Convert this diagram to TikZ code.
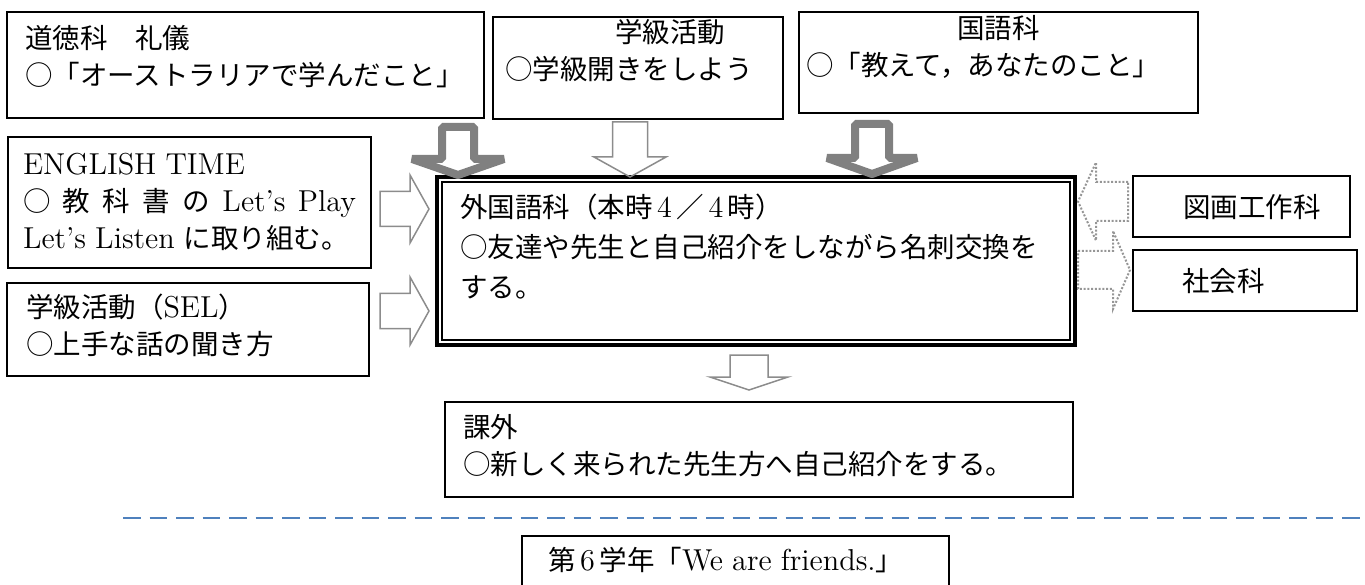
\documentclass[tikz,border=0pt]{standalone}
\usepackage{fontspec}
\setmainfont{Latin Modern Roman}[Scale=1.1]
\newfontfamily\jp{Noto Sans CJK JP}
\newcommand\en[1]{{\rmfamily #1}}
\definecolor{arrowgray}{RGB}{128,128,128}
\definecolor{linegray}{RGB}{140,140,140}
\definecolor{dotgray}{RGB}{150,150,150}
\definecolor{dashblue}{RGB}{79,129,189}
% block arrows: [style]{x}{top}{shaft half}{head half}{head y}{tip y}
\newcommand\vblock[7][]{\draw[#1] ({#2-#4},#3) -- ({#2+#4},#3) -- ({#2+#4},#6) -- ({#2+#5},#6) -- (#2,#7) -- ({#2-#5},#6) -- ({#2-#4},#6) -- cycle;}
% [style]{y}{start x}{shaft half}{head half}{head x}{tip x}
\newcommand\hblock[7][]{\draw[#1] (#3,{#2-#4}) -- (#6,{#2-#4}) -- (#6,{#2-#5}) -- (#7,#2) -- (#6,{#2+#5}) -- (#6,{#2+#4}) -- (#3,{#2+#4}) -- cycle;}
\tikzset{
  box/.style={draw,line width=0.6pt,anchor=north west,align=left,inner ysep=0pt,outer sep=0pt,font=\fontsize{11}{14.8}\selectfont\jp},
  thickarrow/.style={draw=arrowgray,line width=3.2pt,line join=bevel},
  thinarrow/.style={draw=linegray,line width=0.6pt},
  dotarrow/.style={draw=dotgray,line width=0.8pt,dash pattern=on 0.8pt off 0.7pt},
}
\begin{document}
\begin{tikzpicture}[x=0.4pt,y=-0.4pt]
\useasboundingbox (0,0) rectangle (1365,585);

\node (moral) at (7,12) [box,inner xsep=7.2pt,text width=176.4pt,text height=14.6pt,text depth=27.8pt] {道徳科　礼儀\\○「オーストラリアで学んだこと」};
\node (class) at (493,17) [box,inner xsep=4.8pt,text width=106.4pt,text height=10.2pt,text depth=30.6pt] {\hspace*{4em}学級活動\\○学級開きをしよう};
\node (kokugo) at (799,12) [box,inner xsep=2.8pt,text width=154pt,text height=10.6pt,text depth=29.8pt] {\hspace*{5.5em}国語科\\○「教えて，あなたのこと」};

\node (english) at (8,137) [box,inner xsep=6pt,text width=133.2pt,text height=15pt,text depth=37.4pt] {\en{ENGLISH TIME}\\\makebox[\linewidth][s]{○\hfill 教\hfill 科\hfill 書\hfill の\hfill \en{Let’s}\hfill \en{Play}}\\\en{Let’s Listen}~に取り組む。};
\node (sel) at (7,283) [box,inner xsep=7.6pt,text width=129.6pt,text height=13.8pt,text depth=23.4pt] {学級活動（\en{SEL}）\\○上手な話の聞き方};

\node (main) at (437,177) [box,line width=1.3pt,inner xsep=9.2pt,text width=236.8pt,text height=16.2pt,text depth=51pt] {外国語科（本時\,\en{4}\,／\,\en{4}\,時）\\[1.2pt]○友達や先生と自己紹介をしながら名刺交換を\\[1.2pt]する。};
\draw [line width=0.7pt] ([shift={(2.1pt,-2.1pt)}]main.north west) rectangle ([shift={(-2.1pt,2.1pt)}]main.south east);

\node (art) at (1133,176) [box,inner xsep=20pt,text width=46.8pt,text height=16.6pt,text depth=7.8pt] {図画工作科};
\node (social) at (1133,250) [box,inner xsep=19.6pt,text width=50.4pt,text height=16.6pt,text depth=7.8pt] {社会科};

\node (extra) at (445,402) [box,inner xsep=7.2pt,text width=236.8pt,text height=14.2pt,text depth=23.8pt] {課外\\○新しく来られた先生方へ自己紹介をする。};
\node (unit) at (522,536) [box,inner xsep=10.4pt,text width=150pt,text height=13.8pt,text depth=14.2pt] {第\,\en{6}\,学年「\en{We are friends.}」};

% arrows into the main box
\vblock[thickarrow]{458}{127}{16}{46}{159}{175}
\vblock[thinarrow]{630}{122}{17.5}{36}{157}{177}
\vblock[thickarrow]{872}{124}{17}{45}{158}{174}
\hblock[thinarrow]{209}{380}{17.5}{34}{410}{429}
\hblock[thinarrow]{311}{380}{17.5}{34}{410}{429}
\hblock[dotarrow]{201.5}{1128}{19.5}{39}{1096}{1078}
\hblock[dotarrow]{270}{1078}{19}{39}{1113}{1130}
\vblock[thinarrow]{749}{355}{19}{39}{377}{390}

\draw [dashblue,line width=0.8pt,dash pattern=on 7pt off 3.6pt] (123,518) -- (1365,518);
\end{tikzpicture}
\end{document}
